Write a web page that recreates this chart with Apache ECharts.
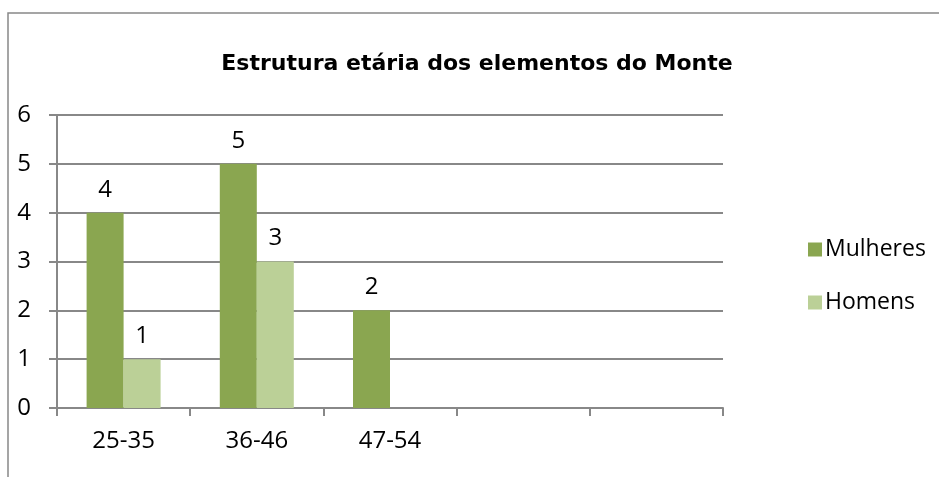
<!DOCTYPE html>
<html>
<head>
<meta charset="utf-8">
<script src="https://cdn.jsdelivr.net/npm/echarts@6/dist/echarts.min.js"></script>
<style>
  html, body { margin: 0; padding: 0; background: #fff; }
</style>
</head>
<body>
<div id="chart" style="width:939px;height:477px;"></div>
<script>
// dados
const categorias = ['25-35', '36-46', '47-54', '', '']
const mulheres = [4, 5, 2, null, null]
const homens = [1, 3, null, null, null]
const yTicks = [0, 1, 2, 3, 4, 5, 6]

const cinza = '#888888'
const fonte = '"Open Sans", "Liberation Sans", sans-serif'

const myChart = echarts.init(document.getElementById('chart'))
myChart.setOption({
  animation: false,
  title: {
    text: 'Estrutura etária dos elementos do Monte',
    left: 472,
    textAlign: 'center',
    top: 48,
    textStyle: {
      fontFamily: '"DejaVu Sans", sans-serif',
      fontWeight: 'bold',
      fontSize: 22,
      color: '#000'
    }
  },
  graphic: [{ // moldura
    type: 'rect',
    shape: { x: 8, y: 13, width: 1200, height: 1000 },
    style: { fill: 'none', stroke: cinza, lineWidth: 1.5 },
    silent: true
  }],
  legend: {
    orient: 'vertical',
    left: 803,
    top: 233,
    itemWidth: 14,
    itemHeight: 14,
    itemGap: 30,
    icon: 'rect',
    textStyle: { fontFamily: fonte, fontSize: 23, color: '#000', padding: [0, 0, 0, -2] },
    data: ['Mulheres', 'Homens']
  },
  grid: {
    left: 57,
    right: 216,
    top: 115,
    bottom: 69
  },
  xAxis: {
    type: 'category',
    data: categorias,
    axisLine: { lineStyle: { color: cinza, width: 2 } },
    axisTick: { show: true, length: 8, interval: 0, lineStyle: { color: cinza, width: 2 } },
    axisLabel: { interval: 0, margin: 21, fontFamily: fonte, fontSize: 24, color: '#000' }
  },
  yAxis: {
    type: 'value',
    min: yTicks[0],
    max: yTicks[yTicks.length - 1],
    interval: 1,
    axisLine: { show: true, lineStyle: { color: cinza, width: 2 } },
    axisTick: { show: true, length: 8, lineStyle: { color: cinza, width: 2 } },
    splitLine: { lineStyle: { color: cinza, width: 2 } },
    axisLabel: { margin: 26, fontFamily: fonte, fontSize: 24, color: '#000' }
  },
  series: [
    {
      name: 'Mulheres',
      type: 'bar',
      data: mulheres,
      barWidth: 37,
      barGap: '0%',
      itemStyle: { color: '#8aa650' },
      label: { show: true, position: 'top', distance: 11, fontFamily: fonte, fontSize: 24, color: '#000' }
    },
    {
      name: 'Homens',
      type: 'bar',
      data: homens,
      barWidth: 37,
      barGap: '0%',
      itemStyle: { color: '#bbd097' },
      label: { show: true, position: 'top', distance: 11, fontFamily: fonte, fontSize: 24, color: '#000' }
    }
  ]
})
</script>
</body>
</html>
